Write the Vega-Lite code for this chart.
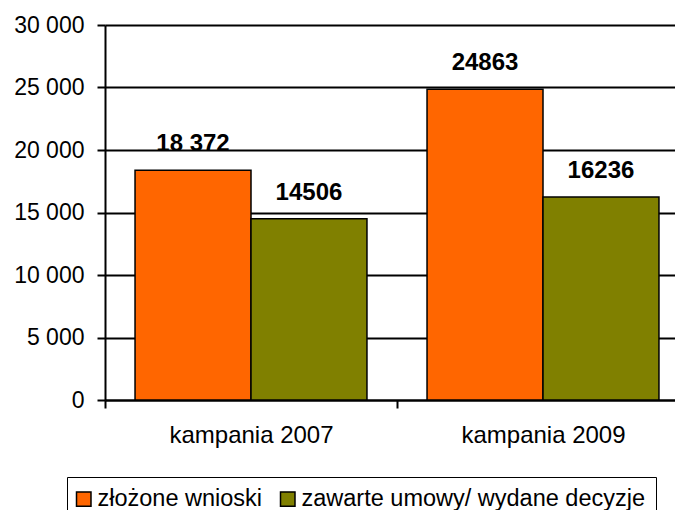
{
  "$schema": "https://vega.github.io/schema/vega-lite/v6.json",
  "autosize": {"type": "none"},
  "padding": {"left": 105, "top": 25, "right": 0, "bottom": 110},
  "width": 570,
  "height": 375,
  "background": "white",
  "config": {
    "font": "Liberation Sans",
    "view": {"stroke": null},
    "axis": {"labelColor": "black", "domainColor": "black", "tickColor": "black", "gridColor": "black", "domainWidth": 2, "tickWidth": 2, "gridWidth": 2, "gridOpacity": 1, "titleColor": "black"}
  },
  "data": {
    "values": [
      {"kampania": "kampania 2007", "seria": "złożone wnioski", "wartosc": 18372, "etykieta": "18 372"},
      {"kampania": "kampania 2007", "seria": "zawarte umowy/ wydane decyzje", "wartosc": 14506, "etykieta": "14506"},
      {"kampania": "kampania 2009", "seria": "złożone wnioski", "wartosc": 24863, "etykieta": "24863"},
      {"kampania": "kampania 2009", "seria": "zawarte umowy/ wydane decyzje", "wartosc": 16236, "etykieta": "16236"}
    ]
  },
  "encoding": {
    "x": {
      "field": "kampania", "type": "nominal",
      "scale": {"range": [0, 584], "paddingInner": 0, "paddingOuter": 0},
      "axis": {"title": null, "labelAngle": 0, "labelFontSize": 24, "tickBand": "extent", "tickSize": 8, "labelPadding": 15, "grid": false}
    },
    "xOffset": {
      "field": "seria", "type": "nominal",
      "scale": {"domain": ["złożone wnioski", "zawarte umowy/ wydane decyzje"], "paddingInner": 0, "paddingOuter": 0.259}
    },
    "y": {
      "field": "wartosc", "type": "quantitative",
      "scale": {"domain": [0, 30000], "nice": false},
      "axis": {"title": null, "values": [0, 5000, 10000, 15000, 20000, 25000, 30000], "labelExpr": "replace(format(datum.value, ','), ',', ' ')", "labelFontSize": 23, "tickSize": 8, "labelPadding": 13, "grid": true}
    }
  },
  "layer": [
    {
      "mark": {"type": "bar", "stroke": "black", "strokeWidth": 1.5, "clip": true},
      "encoding": {
        "color": {
          "field": "seria", "type": "nominal",
          "scale": {"domain": ["złożone wnioski", "zawarte umowy/ wydane decyzje"], "range": ["#FF6600", "#808000"]},
          "legend": {
            "title": null, "orient": "none", "legendX": -38, "legendY": 452, "direction": "horizontal",
            "columns": 2, "columnPadding": 14, "labelFontSize": 23.5, "labelColor": "black", "labelLimit": 600,
            "labelOffset": 2, "symbolOffset": -5, "symbolType": "square", "symbolSize": 210, "symbolStrokeColor": "black",
            "symbolStrokeWidth": 1.5, "symbolOpacity": 1, "padding": 10, "strokeColor": "black",
            "fillColor": "white", "cornerRadius": 0
          }
        }
      }
    },
    {
      "mark": {"type": "text", "fontWeight": "bold", "fontSize": 24, "baseline": "alphabetic", "dy": -19, "color": "black", "clip": true},
      "encoding": {"text": {"field": "etykieta"}}
    }
  ]
}
